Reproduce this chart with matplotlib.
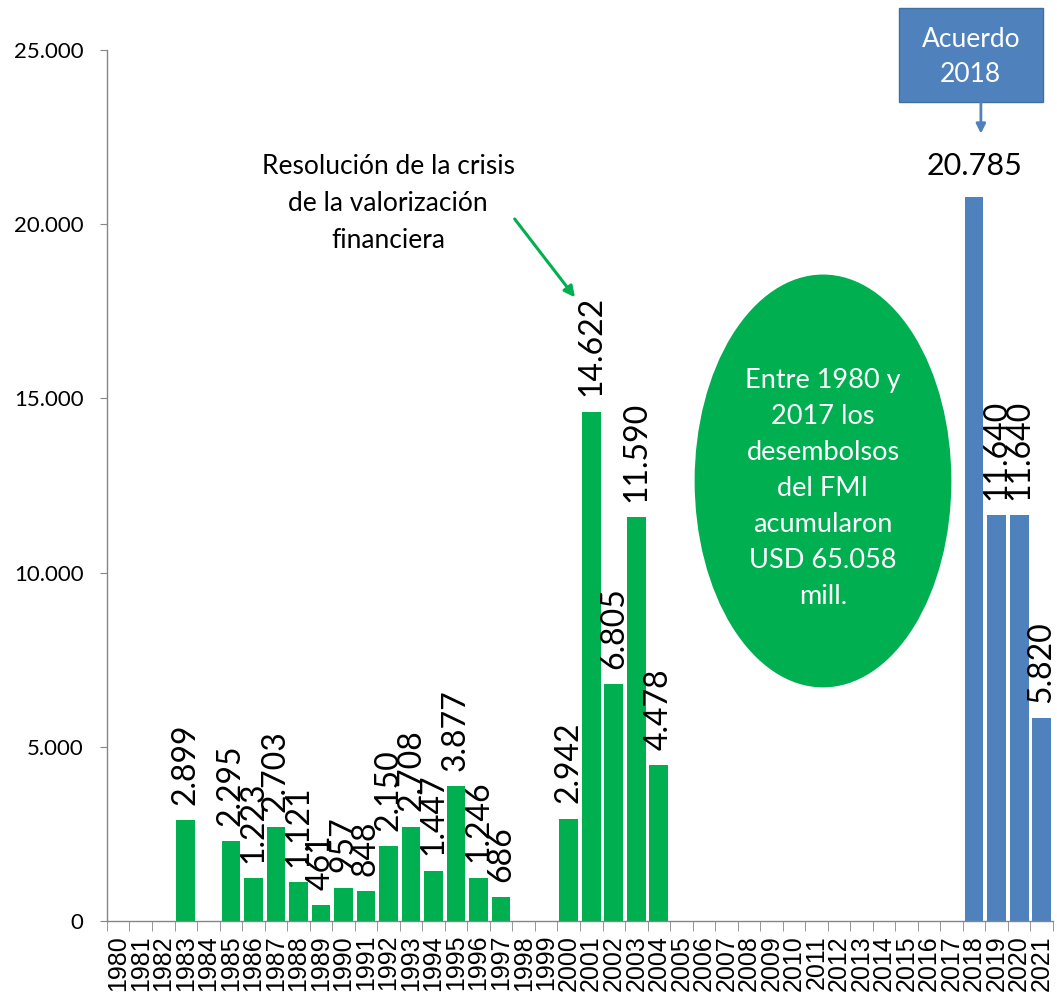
import matplotlib
matplotlib.use("Agg")
import matplotlib.pyplot as plt
from matplotlib.patches import Ellipse, Rectangle
from matplotlib.ticker import FuncFormatter, FixedLocator

years = list(range(1980, 2022))
values = [0, 0, 0, 2899, 0, 2295, 1223, 2703, 1121, 461,
          957, 848, 2150, 2708, 1447, 3877, 1246, 686, 0, 0,
          2942, 14622, 6805, 11590, 4478, 0, 0, 0, 0, 0,
          0, 0, 0, 0, 0, 0, 0, 0, 20785, 11640,
          11640, 5820]
acuerdo_start = 2018

GREEN = "#00B050"
BLUE = "#4F81BD"
SPINE = "#868686"
TXT = "Lato"

fig = plt.figure(figsize=(10.57, 10.08), dpi=100)
ax = fig.add_axes([0.1012, 0.0863, 0.8950, 0.8641])

x = list(range(len(years)))
colors = [BLUE if y >= acuerdo_start else GREEN for y in years]
ax.bar(x, values, width=0.83, color=colors, zorder=2)

ax.set_xlim(-0.5, len(years) - 0.5)
ax.set_ylim(0, 25000)

# value labels
for xi, yr, v in zip(x, years, values):
    if v <= 0:
        continue
    lab = f"{v:,}".replace(",", ".")
    if yr == acuerdo_start:
        ax.annotate(lab, (xi, v), xytext=(0, 12), textcoords="offset points",
                    ha="center", va="bottom", fontsize=22, family=TXT,
                    color="black", annotation_clip=False)
    else:
        ax.annotate(lab, (xi, v), xytext=(0, 11), textcoords="offset points",
                    ha="center", va="bottom", rotation=90, fontsize=23,
                    family=TXT, color="black", annotation_clip=False)

# axes styling
for s in ["top", "right"]:
    ax.spines[s].set_visible(False)
for s in ["left", "bottom"]:
    ax.spines[s].set_color(SPINE)
    ax.spines[s].set_linewidth(1.0)

ax.yaxis.set_major_locator(FixedLocator([0, 5000, 10000, 15000, 20000, 25000]))
ax.yaxis.set_major_formatter(FuncFormatter(lambda v, p: f"{int(v):,}".replace(",", ".")))
ax.tick_params(axis="y", direction="out", length=5, color=SPINE, labelsize=16, pad=12)
for t in ax.get_yticklabels():
    t.set_family(TXT)

ax.set_xticks(x)
ax.set_xticklabels([str(y) for y in years], rotation=90, fontsize=18,
                   family="Liberation Sans")
ax.tick_params(axis="x", which="major", length=0, pad=10)
ax.set_xticks([i - 0.5 for i in range(len(years) + 1)], minor=True)
ax.tick_params(axis="x", which="minor", direction="out", length=7, color=SPINE)

# annotation: crisis text + arrow
ax.text(11.98, 20600, "Resolución de la crisis\nde la valorización\nfinanciera",
        ha="center", va="center", fontsize=19, family=TXT, linespacing=1.6)
ax.annotate("", xy=(20.28, 17900), xytext=(17.6, 20150),
            arrowprops=dict(arrowstyle="-|>", color=GREEN, lw=2.2,
                            mutation_scale=16, shrinkA=0, shrinkB=0))

# ellipse
ell = Ellipse((31.29, 12630), width=11.4, height=11850, facecolor=GREEN,
              edgecolor="none", zorder=3)
ax.add_patch(ell)
ax.text(31.29, 12400, "Entre 1980 y\n2017 los\ndesembolsos\ndel FMI\nacumularon\nUSD 65.058\nmill.",
        ha="center", va="center", fontsize=19.5, family=TXT, color="white",
        linespacing=1.55, zorder=4)

# Acuerdo 2018 box
box = Rectangle((34.65, 23500), 6.4, 2700, facecolor=BLUE, edgecolor="#41709F",
                lw=1.0, clip_on=False, zorder=3)
ax.add_patch(box)
ax.text(37.85, 24800, "Acuerdo\n2018", ha="center", va="center", fontsize=19,
        family=TXT, color="white", linespacing=1.5, zorder=4, clip_on=False)
ax.annotate("", xy=(38.3, 22600), xytext=(38.3, 23500),
            arrowprops=dict(arrowstyle="-|>", color=BLUE, lw=2.0,
                            mutation_scale=14, shrinkA=0, shrinkB=0),
            annotation_clip=False)

fig.savefig("out.png", dpi=100, facecolor="white")
